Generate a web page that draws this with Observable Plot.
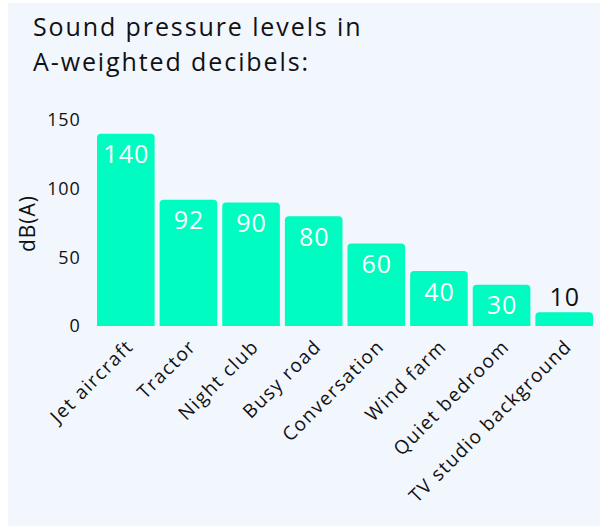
<!DOCTYPE html>
<html>
<head>
<meta charset="utf-8">
<script src="https://cdn.jsdelivr.net/npm/d3@7"></script>
<script src="https://cdn.jsdelivr.net/npm/@observablehq/plot@0.6"></script>
<style>
  html, body { margin: 0; padding: 0; background: #ffffff; }
  body { width: 600px; height: 526px; overflow: hidden; position: relative; font-family: "Open Sans", "Noto Sans", sans-serif; }
  #panel { position: absolute; left: 8px; top: 3px; width: 592px; height: 523px; background: #f2f6fd; }
  #title { position: absolute; left: 25px; top: 6px; margin: 0; font-size: 25px; line-height: 35px; font-weight: 400; color: #111; letter-spacing: 1.9px; }
  #chart { position: absolute; left: 0; top: 87px; }
  #chart svg { overflow: visible; }
  #chart [aria-label="y-axis label"] text { font-size: 21px; letter-spacing: 1px; }
  #chart [aria-label="x-axis tick label"] text { letter-spacing: 1.4px; }
  #chart [aria-label="y-axis tick label"] text { letter-spacing: 0.8px; }
  #chart [aria-label="text"] text { letter-spacing: 1px; }
</style>
</head>
<body>
<div id="panel">
  <div id="title">Sound pressure levels in<br>A-weighted decibels:</div>
  <div id="chart"></div>
</div>
<script>
const categories = ["Jet aircraft", "Tractor", "Night club", "Busy road", "Conversation", "Wind farm", "Quiet bedroom", "TV studio background"];
const values = [140, 92, 90, 80, 60, 40, 30, 10];
const yTicks = [0, 50, 100, 150];

const data = categories.map((c, i) => ({category: c, value: values[i]}));
const inside = data.filter(d => d.value >= 20);
const outside = data.filter(d => d.value < 20);

const chart = Plot.plot({
  width: 592,
  height: 436,
  marginTop: 30,
  marginLeft: 89,
  marginRight: 7,
  marginBottom: 200,
  style: {background: "transparent", fontFamily: "'Open Sans', 'Noto Sans', sans-serif", color: "#111"},
  x: {domain: categories, paddingInner: 0.08, paddingOuter: 0, round: false},
  y: {domain: [0, 150]},
  marks: [
    Plot.barY(data, {x: "category", y: "value", fill: "#00fcc0", ry1: 4}),
    Plot.text(inside, {x: "category", y: "value", text: d => String(d.value), fill: "white", fontSize: 25, dy: 21}),
    Plot.text(outside, {x: "category", y: "value", text: d => String(d.value), fill: "#111", fontSize: 25, dy: -15}),
    Plot.axisY({ticks: yTicks, tickSize: 0, tickPadding: 17, fontSize: 18, label: "dB(A)", labelAnchor: "center", labelArrow: "none", labelOffset: 77}),
    Plot.axisX({tickSize: 0, tickPadding: 10, tickRotate: -45, fontSize: 19, label: null, dx: 4, dy: 7})
  ]
});
document.getElementById("chart").appendChild(chart);
</script>
</body>
</html>
